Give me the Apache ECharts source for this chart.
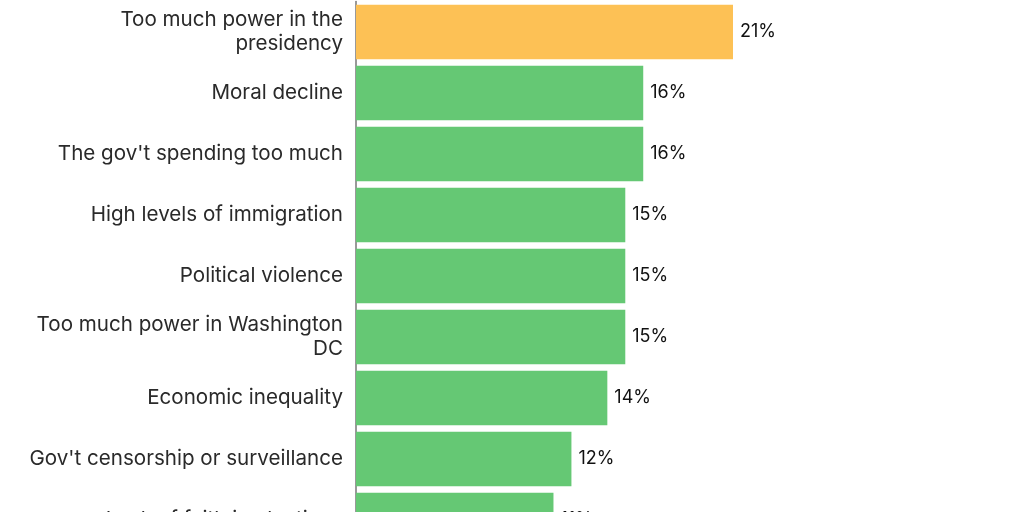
<!DOCTYPE html>
<html>
<head>
<meta charset="utf-8">
<script src="https://cdn.jsdelivr.net/npm/echarts@6/dist/echarts.min.js"></script>
<style>html,body{margin:0;padding:0;background:#fff}#c{width:1024px;height:512px}</style>
</head>
<body>
<div id="c"></div>
<script>
const categories = [
  "Too much power in the presidency",
  "Moral decline",
  "The gov't spending too much",
  "High levels of immigration",
  "Political violence",
  "Too much power in Washington DC",
  "Economic inequality",
  "Gov't censorship or surveillance",
  "Lack of faith in elections"
];
const values = [21, 16, 16, 15, 15, 15, 14, 12, 11];
const highlightIndex = 0;

const LABEL_FONT = '20.6px Inter';
const ctx = document.createElement('canvas').getContext('2d');
ctx.font = LABEL_FONT;
function wrap(text, maxW) {
  const words = text.split(' ');
  const lines = [];
  let cur = '';
  for (const w of words) {
    const t = cur ? cur + ' ' + w : w;
    if (cur && ctx.measureText(t).width > maxW) { lines.push(cur); cur = w; }
    else cur = t;
  }
  if (cur) lines.push(cur);
  return lines.join('\n');
}

const chart = echarts.init(document.getElementById('c'), null, {renderer: 'canvas'});
chart.setOption({
  animation: false,
  grid: {left: 356, top: 1.5, width: 377, height: 549, outerBoundsMode: 'none', containLabel: false},
  xAxis: {type: 'value', min: 0, max: 21, show: false},
  yAxis: {
    type: 'category', data: categories, inverse: true,
    axisLine: {show: true, lineStyle: {color: '#777', width: 1.5}},
    axisTick: {show: false},
    axisLabel: {
      margin: 13, fontFamily: 'Inter', fontSize: 20.6, color: '#2a2a2a',
      lineHeight: 24, align: 'right',
      formatter: v => wrap(v, 322)
    }
  },
  series: [{
    type: 'bar', data: values, barCategoryGap: '11%',
    itemStyle: {color: p => p.dataIndex === highlightIndex ? '#FDC155' : '#65C874'},
    label: {show: true, position: 'right', distance: 7, fontFamily: 'Inter', fontSize: 18, color: '#111',
      formatter: p => p.value + '%'}
  }]
});
</script>
</body>
</html>
